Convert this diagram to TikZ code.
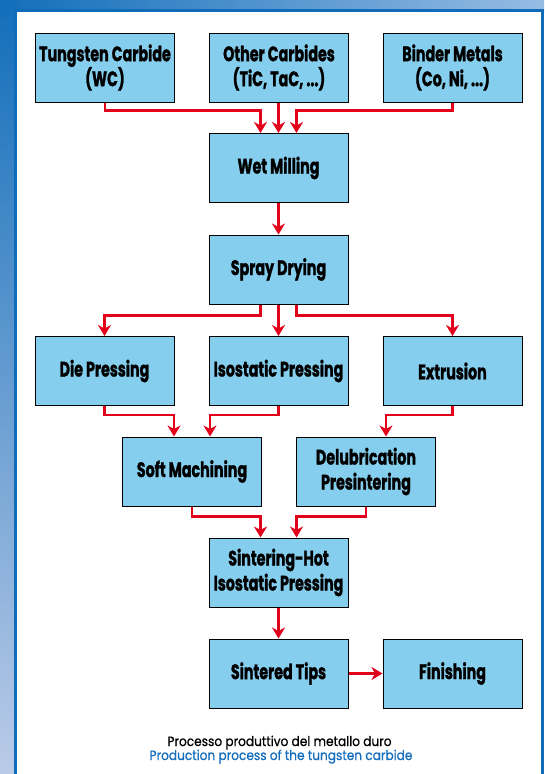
\documentclass[tikz,border=0pt]{standalone}
\usepackage{fontspec}
\setmainfont{Poppins}[FakeStretch=0.68, BoldFeatures={FakeBold=1.2}]
\newfontfamily\capfont{Poppins}[FakeStretch=0.9, FakeBold=0.7]
\usetikzlibrary{arrows.meta,shadings}
\definecolor{boxblue}{RGB}{134,206,238}
\definecolor{arrowred}{RGB}{226,0,26}
\definecolor{frameblue}{RGB}{16,108,184}
\definecolor{capblue}{RGB}{20,110,190}
\definecolor{bgul}{RGB}{18,110,186}
\definecolor{bgur}{RGB}{150,188,228}
\definecolor{bgll}{RGB}{186,203,232}
\definecolor{bglr}{RGB}{196,210,238}
\begin{document}
\begin{tikzpicture}[x=1pt,y=-1pt,
  proc/.style={draw=black, line width=1pt, fill=boxblue, minimum width=139pt, minimum height=69pt,
    align=center, inner sep=0pt, font=\bfseries\fontsize{21}{25}\selectfont},
  flow/.style={draw=arrowred, line width=2.2pt, -{Stealth[length=11pt,width=13pt,inset=3.5pt]}},
  caption/.style={inner sep=0pt, font=\capfont\fontsize{13.5}{14}\selectfont}]
\useasboundingbox (0,0) rectangle (544,774);
\clip (0,0) rectangle (544,774);
\shade[left color=bgul, right color=bgur] (0,0) rectangle (544,12);
\shade[top color=bgul, bottom color=bgll] (0,0) rectangle (16,774);
\fill[bglr] (540,12) rectangle (544,774);
\draw[frameblue, line width=3pt, fill=white] (15.5,10.5) rectangle (542,800);

\node[proc] (tc) at (105,67.5) {Tungsten Carbide\\(WC)};
\node[proc] (oc) at (279,67.5) {Other Carbides\\(TiC, TaC, ...)};
\node[proc] (bm) at (452.5,67.5) {Binder Metals\\(Co, Ni, ...)};
\node[proc] (wm) at (278.5,168) {Wet Milling};
\node[proc] (sd) at (278.5,269.5) {Spray Drying};
\node[proc] (dp) at (104.5,371) {Die Pressing};
\node[proc] (ip) at (278.5,371) {Isostatic Pressing};
\node[proc] (ex) at (452.5,371) {Extrusion};
\node[proc] (sm) at (192,471.5) {Soft Machining};
\node[proc] (dl) at (366,471.5) {Delubrication\\Presintering};
\node[proc] (sh) at (278.5,572.5) {Sintering-Hot\\Isostatic Pressing};
\node[proc] (st) at (278.5,673.5) {Sintered Tips};
\node[proc] (fi) at (452.5,673.5) {Finishing};

\draw[flow] (tc.south) -- ++(0,8) -| ([xshift=-18pt]wm.north);
\draw[flow] (wm.north |- oc.south) -- (wm.north);
\draw[flow] (bm.south) -- ++(0,8) -| ([xshift=18pt]wm.north);
\draw[flow] (wm.south) -- (sd.north);
\draw[flow] ([xshift=-18pt]sd.south) -- ++(0,11) -| (dp.north);
\draw[flow] (sd.south) -- (ip.north);
\draw[flow] ([xshift=18pt]sd.south) -- ++(0,11) -| (ex.north);
\draw[flow] (dp.south) -- ++(0,9) -| ([xshift=-18pt]sm.north);
\draw[flow] (ip.south) -- ++(0,9) -| ([xshift=18pt]sm.north);
\draw[flow] (ex.south) -- ++(0,9) -| ([xshift=20pt]dl.north);
\draw[flow] (sm.south) -- ++(0,10) -| ([xshift=-18pt]sh.north);
\draw[flow] (dl.south) -- ++(0,10) -| ([xshift=18pt]sh.north);
\draw[flow] (sh.south) -- (st.north);
\draw[flow] (st.east) -- (fi.west);

\node[caption, anchor=base] (c1) at (279.5,746) {Processo produttivo del metallo duro};
\node[caption, anchor=base, text=capblue] (c2) at (281,760) {Production process of the tungsten carbide};
\end{tikzpicture}
\end{document}
